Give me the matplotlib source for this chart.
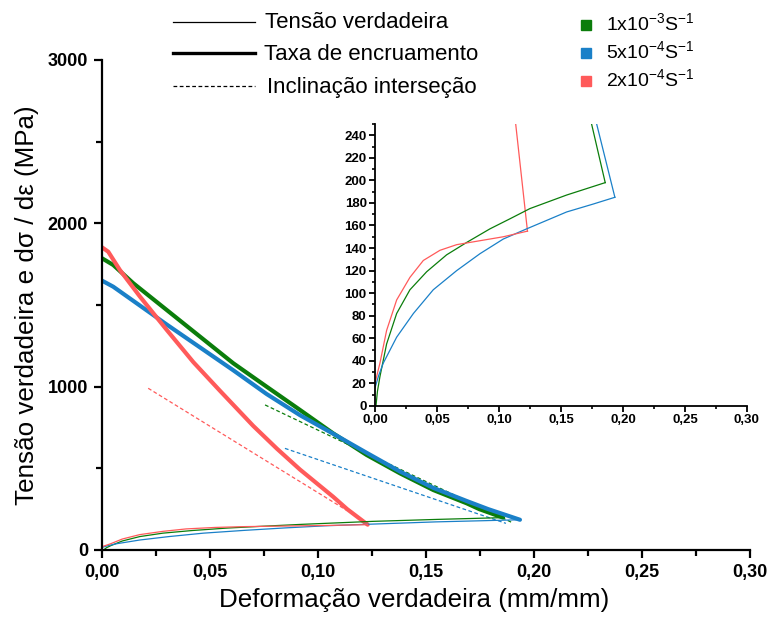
import matplotlib
matplotlib.use("Agg")
import matplotlib.pyplot as plt
from matplotlib.lines import Line2D
from matplotlib.ticker import MultipleLocator, FuncFormatter

plt.rcParams['font.family'] = ['Liberation Sans', 'DejaVu Sans']
plt.rcParams['mathtext.default'] = 'regular'

# strain rate labels and colours
rate_labels = [r'1x10$^{-3}$S$^{-1}$', r'5x10$^{-4}$S$^{-1}$', r'2x10$^{-4}$S$^{-1}$']
rate_colors = ['#0b7d0b', '#1a80c8', '#ff5a5a']

# true stress curves (strain, MPa)
green_stress_x = [0.0008, 0.002, 0.004, 0.0094, 0.0175, 0.0282, 0.0417, 0.0578, 0.074, 0.0927, 0.109, 0.125, 0.1546, 0.1857]
green_stress_y = [0, 13, 26, 55, 82, 103, 119, 134, 145, 157, 166, 175, 187, 198]
blue_stress_x = [0.0, 0.003, 0.0067, 0.0175, 0.031, 0.047, 0.0659, 0.0847, 0.1035, 0.1223, 0.1546, 0.176, 0.1935]
blue_stress_y = [16, 27, 38, 61, 82, 103, 120, 135, 148, 157, 172, 179, 185]
red_stress_x = [0.0, 0.002, 0.004, 0.0094, 0.0175, 0.0282, 0.039, 0.0524, 0.0659, 0.0766, 0.1035, 0.123]
red_stress_y = [20, 29, 38, 67, 94, 114, 129, 138, 143, 145, 150, 155]

# work hardening rate dsigma/deps (MPa)
green_rate_x = [0.0, 0.0052, 0.0145, 0.030, 0.0454, 0.0608, 0.0762, 0.0917, 0.107, 0.1225, 0.138, 0.1534, 0.1688, 0.1747, 0.1857]
green_rate_y = [1786, 1745, 1633, 1469, 1306, 1143, 1000, 857, 714, 582, 469, 367, 286, 250, 198]
blue_rate_x = [0.0, 0.0052, 0.0145, 0.030, 0.0454, 0.0608, 0.0762, 0.0917, 0.107, 0.1225, 0.138, 0.1534, 0.1688, 0.1788, 0.1935]
blue_rate_y = [1649, 1612, 1525, 1380, 1240, 1100, 955, 825, 712, 595, 480, 380, 300, 250, 185]
red_rate_x = [0.0, 0.0029, 0.0083, 0.0176, 0.030, 0.0423, 0.0546, 0.070, 0.081, 0.0917, 0.107, 0.1135, 0.123]
red_rate_y = [1853, 1826, 1714, 1551, 1347, 1150, 975, 760, 620, 492, 326, 250, 155]

# intersection slope lines
green_slope_x = [0.0755, 0.19]
green_slope_y = [888, 167]
blue_slope_x = [0.0847, 0.187]
blue_slope_y = [622, 163]
red_slope_x = [0.0214, 0.113]
red_slope_y = [990, 245]

stress = [(green_stress_x, green_stress_y), (blue_stress_x, blue_stress_y), (red_stress_x, red_stress_y)]
rates = [(green_rate_x, green_rate_y), (blue_rate_x, blue_rate_y), (red_rate_x, red_rate_y)]
slopes = [(green_slope_x, green_slope_y), (blue_slope_x, blue_slope_y), (red_slope_x, red_slope_y)]

comma = FuncFormatter(lambda v, p: f"{v:.2f}".replace(".", ","))

fig = plt.figure(figsize=(7.69, 6.22), dpi=100)
ax = fig.add_axes([0.1326, 0.1158, 0.8427, 0.7878])

for (x, y), c in zip(slopes, rate_colors):
    ax.plot(x, y, color=c, lw=0.9, ls=(0, (3, 2)))
for (x, y), c in zip(rates, rate_colors):
    ax.plot(x, y, color=c, lw=3.0, solid_capstyle='round', solid_joinstyle='round')
for (x, y), c in zip(stress, rate_colors):
    ax.plot(x, y, color=c, lw=0.9)

ax.set_xlim(0, 0.30)
ax.set_ylim(0, 3000)
ax.xaxis.set_major_locator(MultipleLocator(0.05))
ax.xaxis.set_minor_locator(MultipleLocator(0.025))
ax.yaxis.set_major_locator(MultipleLocator(1000))
ax.yaxis.set_minor_locator(MultipleLocator(500))
ax.xaxis.set_major_formatter(comma)
for s in ['top', 'right']:
    ax.spines[s].set_visible(False)
for s in ['left', 'bottom']:
    ax.spines[s].set_linewidth(1.6)
ax.tick_params(which='major', length=6, width=1.6, labelsize=13, pad=4)
ax.tick_params(which='minor', length=4, width=1.6)
for lab in ax.get_xticklabels() + ax.get_yticklabels():
    lab.set_fontweight('bold')
ax.set_xlabel('Deformação verdadeira (mm/mm)', fontsize=18.7, labelpad=5)
ax.xaxis.label.set_x(0.481)
ax.set_ylabel('Tensão verdadeira e dσ / dε (MPa)', fontsize=18.7, labelpad=6)

# inset
ins = fig.add_axes([0.4876, 0.3473, 0.4837, 0.4534])
for (x, y), c in zip(rates, rate_colors):
    ins.plot(x, y, color=c, lw=0.9)
for (x, y), c in zip(stress, rate_colors):
    ins.plot(x, y, color=c, lw=0.9)
ins.set_xlim(0, 0.30)
ins.set_ylim(0, 250)
ins.xaxis.set_major_locator(MultipleLocator(0.05))
ins.xaxis.set_minor_locator(MultipleLocator(0.025))
ins.yaxis.set_major_locator(MultipleLocator(20))
ins.yaxis.set_minor_locator(MultipleLocator(10))
ins.xaxis.set_major_formatter(comma)
for s in ['top', 'right']:
    ins.spines[s].set_visible(False)
for s in ['left', 'bottom']:
    ins.spines[s].set_linewidth(1.3)
ins.tick_params(which='major', length=4, width=1.3, labelsize=9.5, pad=2)
ins.tick_params(which='minor', length=2.5, width=1.2)
for lab in ins.get_xticklabels() + ins.get_yticklabels():
    lab.set_fontweight('bold')
ins.patch.set_alpha(0)

# legends drawn in figure pixel space
W, H = 769, 622
style_labels = ['Tensão verdadeira', 'Taxa de encruamento', 'Inclinação interseção']
style_widths = [0.9, 2.4, 0.9]
style_dashes = ['-', '-', (0, (3, 2))]
style_rows = [22, 53, 86]
style_text_x = [265, 264, 267]
for lab, lw, ls, yy, tx in zip(style_labels, style_widths, style_dashes, style_rows, style_text_x):
    fig.add_artist(Line2D([173 / W, 255 / W], [1 - yy / H, 1 - yy / H], color='black', lw=lw, ls=ls))
    fig.text(tx / W, 1 - (yy + 1) / H, lab, fontsize=16, va='center', ha='left')

rate_rows = [25, 53, 81]
for lab, c, yy in zip(rate_labels, rate_colors, rate_rows):
    fig.add_artist(Line2D([586 / W], [1 - yy / H], marker='s', ms=7.5, color=c, lw=0))
    fig.text(606 / W, 1 - (yy - 2) / H, lab, fontsize=14, va='center', ha='left')

fig.savefig('out.png', dpi=100)
